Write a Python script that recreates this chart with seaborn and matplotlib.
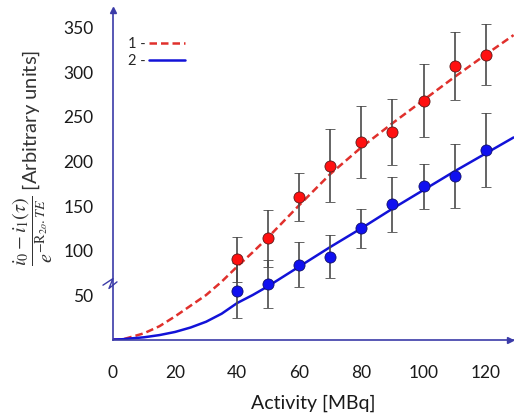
import matplotlib
matplotlib.use("Agg")
import matplotlib.pyplot as plt
import pandas as pd
import seaborn as sns

# ── Data ──────────────────────────────────────────────────────────────────────
activity = [40, 50, 60, 70, 80, 90, 100, 110, 120]
signal_1 = [90, 114, 160, 195, 222, 233, 268, 307, 320]
err_1    = [25, 32, 27, 41, 40, 37, 41, 38, 34]
signal_2 = [55, 62, 84, 93, 125, 152, 172, 184, 213]
err_2    = [31, 27, 25, 24, 22, 31, 25, 36, 42]

fit_x = [0, 3, 5, 10, 15, 20, 25, 30, 35, 40, 45, 50, 55, 60, 70, 80, 90, 100, 110, 120, 129]
fit_1 = [0, 0, 2, 7, 15, 26, 38, 50, 65, 82, 98, 115, 133, 151, 186, 216, 243, 269, 295, 320, 342]
fit_2 = [0, 0.3, 1, 2.5, 5, 8.5, 13.5, 20, 29, 41, 50, 60, 71, 82, 104, 125, 147, 168, 189, 209, 227]

x_ticks = [0, 20, 40, 60, 80, 100, 120]
y_ticks = [50, 100, 150, 200, 250, 300, 350]

# ── Style ─────────────────────────────────────────────────────────────────────
AXIS_BLUE = "#3b3ba8"
RED_LINE  = "#e0302c"
BLUE_LINE = "#1212d8"

sns.set_theme(style="white")
plt.rcParams["font.family"] = ["Lato", "DejaVu Sans"]
plt.rcParams["mathtext.fontset"] = "stix"

fig = plt.figure(figsize=(5.14, 4.19), dpi=100)
ax = fig.add_axes([0.2198, 0.1897, 0.7794, 0.786])

fits = pd.DataFrame({"x": fit_x, "1": fit_1, "2": fit_2})
sns.lineplot(data=fits, x="x", y="1", ax=ax, color=RED_LINE, lw=1.8,
             label="1 -", zorder=2)
ax.lines[-1].set_linestyle((0, (3, 1.6)))
sns.lineplot(data=fits, x="x", y="2", ax=ax, color=BLUE_LINE, lw=1.8,
             label="2 -", zorder=2)

for y, e, c, ec in [(signal_1, err_1, "#ff1010", "#5a1a1a"),
                    (signal_2, err_2, "#1010f0", "#10106a")]:
    ax.errorbar(activity, y, yerr=e, fmt="o", ms=8, mfc=c, mec=ec, mew=0.6,
                ecolor="#4a4a4a", elinewidth=1.2, capsize=3.6, capthick=1.2, zorder=3)

ax.set_xlim(0, 129)
ax.set_ylim(0, 370)
ax.set_xticks(x_ticks)
ax.set_yticks(y_ticks)

for side in ["top", "right"]:
    ax.spines[side].set_visible(False)
for side in ["left", "bottom"]:
    ax.spines[side].set_color(AXIS_BLUE)
    ax.spines[side].set_linewidth(1.2)

ax.tick_params(axis="both", direction="in", length=4, width=1, color=AXIS_BLUE,
               labelsize=12.5, labelcolor="#1a1a1a")
ax.tick_params(axis="y", pad=14)
ax.tick_params(axis="x", pad=18)

# axis arrow heads
ax.plot(0, 1.0, "^", ms=4, color=AXIS_BLUE, transform=ax.transAxes, clip_on=False)
ax.plot(0.99, 0, ">", ms=4, color=AXIS_BLUE, transform=ax.transAxes, clip_on=False)
# axis break mark
ax.plot([-0.025, 0.0, -0.01, 0.01], [0.165, 0.185, 0.155, 0.175], color=AXIS_BLUE,
        lw=1, transform=ax.transAxes, clip_on=False)

ax.set_xlabel("Activity [MBq]", fontsize=14, color="#1a1a1a", labelpad=10)
ax.set_ylabel(r"$\dfrac{i_0 - i_1(\tau)}{e^{-\mathrm{R}_{2o}.TE}}$ [Arbitrary units]",
              fontsize=14.5, color="#333333")
ax.yaxis.set_label_coords(-0.145, 0.55)

ax.legend(loc="upper left", bbox_to_anchor=(0.02, 0.94), frameon=False,
          markerfirst=False, fontsize=10.5, handlelength=2.5, handletextpad=0.2,
          borderpad=0, labelspacing=0.2)

fig.savefig("out.png", dpi=100)
